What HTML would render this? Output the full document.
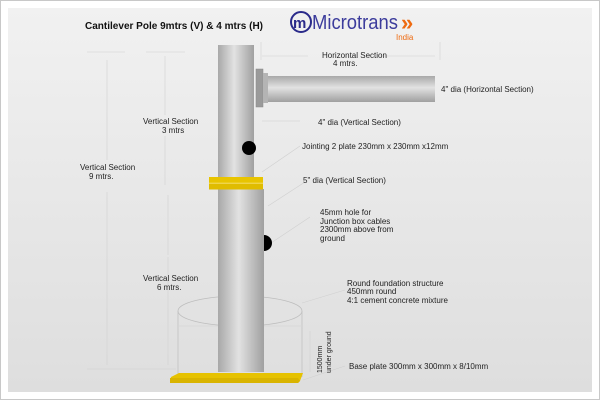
<!DOCTYPE html>
<html><head><meta charset="utf-8"><style>
html,body{margin:0;padding:0;background:#fff}
svg{display:block}
text{font-family:"Liberation Sans",Arial,sans-serif}
</style></head><body>
<svg width="600" height="400" viewBox="0 0 600 400" xmlns="http://www.w3.org/2000/svg" font-size="8" fill="#222">
<defs>
<linearGradient id="bg" x1="0" y1="0" x2="0" y2="1"><stop offset="0" stop-color="#f1f1f1"/><stop offset="1" stop-color="#dedede"/></linearGradient>
<linearGradient id="pv" x1="0" y1="0" x2="1" y2="0"><stop offset="0" stop-color="#a8a8a8"/><stop offset="0.45" stop-color="#e2e2e2"/><stop offset="1" stop-color="#a0a0a0"/></linearGradient>
<linearGradient id="ph" x1="0" y1="0" x2="0" y2="1"><stop offset="0" stop-color="#a8a8a8"/><stop offset="0.45" stop-color="#e2e2e2"/><stop offset="1" stop-color="#a0a0a0"/></linearGradient>
</defs>
<rect x="0.5" y="0.5" width="599" height="399" fill="#fff" stroke="#c8c8c8"/>
<rect x="8" y="8" width="584" height="384" fill="url(#bg)"/>
<text x="85" y="29" font-size="10.5" font-weight="bold" fill="#111" textLength="178" lengthAdjust="spacingAndGlyphs">Cantilever Pole 9mtrs (V) &amp; 4 mtrs (H)</text>
<!-- logo -->
<circle cx="301" cy="22" r="10" fill="none" stroke="#2a2a8a" stroke-width="2"/>
<text x="293" y="28" font-size="15" font-weight="bold" fill="#2a2a8a">m</text>
<text x="312" y="29" font-size="20" fill="#3c3c9c" textLength="86" lengthAdjust="spacingAndGlyphs">Microtrans</text>
<text x="401" y="30" font-size="22" font-weight="bold" fill="#ee6a10">»</text>
<text x="396" y="40" font-size="8" fill="#ee6a10">India</text>
<!-- dimension lines -->
<g stroke="#d0d0d0" stroke-width="0.6" fill="none">
<line x1="87" y1="52" x2="125" y2="52"/><line x1="146" y1="52" x2="185" y2="52"/>
<line x1="107" y1="60" x2="107" y2="160"/><line x1="107" y1="192" x2="107" y2="365"/>
<line x1="165" y1="56" x2="165" y2="115"/><line x1="165" y1="136" x2="165" y2="185"/>
<line x1="168" y1="257" x2="168" y2="365"/><line x1="168" y1="195" x2="168" y2="255"/>
<line x1="87" y1="369" x2="176" y2="369"/>
<line x1="261" y1="42" x2="261" y2="60"/><line x1="262" y1="56" x2="308" y2="56"/><line x1="380" y1="56" x2="435" y2="56"/>
<line x1="440" y1="42" x2="440" y2="60"/>
<line x1="262" y1="121" x2="300" y2="121"/>
<line x1="262" y1="172" x2="300" y2="146"/>
<line x1="268" y1="206" x2="305" y2="182"/>
<line x1="268" y1="245" x2="310" y2="217"/>
<line x1="302" y1="303" x2="345" y2="290"/>
<line x1="303" y1="380" x2="345" y2="366"/>
<line x1="310" y1="331" x2="310" y2="372"/>
</g>
<!-- foundation -->
<g stroke="#bdbdbd" stroke-width="0.7" fill="none">
<ellipse cx="240" cy="311" rx="62" ry="15"/>
<line x1="178" y1="311" x2="178" y2="377"/><line x1="302" y1="311" x2="302" y2="377"/>
<line x1="178" y1="326" x2="302" y2="326" stroke="#d6d6d6"/>
</g>
<!-- upper pole -->
<rect x="218" y="45" width="36" height="135" fill="url(#pv)"/>
<!-- horizontal -->
<rect x="256" y="69" width="7" height="38" fill="#9a9a9a" stroke="#888" stroke-width="0.5"/>
<rect x="263" y="73" width="5" height="30" fill="#b4b4b4"/>
<rect x="268" y="76" width="167" height="26" fill="url(#ph)"/>
<circle cx="249" cy="148" r="7" fill="#000"/>
<!-- lower pole -->
<rect x="218" y="189" width="46" height="183" fill="url(#pv)"/>
<path d="M264,235 A8,8 0 0 1 264,251 Z" fill="#000"/>
<!-- joint plate -->
<rect x="209" y="177" width="54" height="6" fill="#e8c400"/>
<rect x="209" y="183.5" width="54" height="6" fill="#e0bc00"/>
<line x1="209" y1="183.2" x2="263" y2="183.2" stroke="#f5e27a" stroke-width="0.8"/>
<!-- base plate -->
<polygon points="171,377 179,373 303,373 300,381 298,383 170,383" fill="#e6c200"/>
<polygon points="170,378 298,378 300,381 298,383 170,383" fill="#d9b400"/>
<!-- labels -->
<text x="322" y="58">Horizontal Section</text>
<text x="333" y="66">4 mtrs.</text>
<text x="441" y="92">4" dia (Horizontal Section)</text>
<text x="318" y="125">4" dia (Vertical Section)</text>
<text x="143" y="124">Vertical Section</text>
<text x="162" y="133">3 mtrs</text>
<text x="80" y="170">Vertical Section</text>
<text x="89" y="179">9  mtrs.</text>
<text x="302" y="149">Jointing 2 plate 230mm x 230mm x12mm</text>
<text x="303" y="183">5" dia (Vertical Section)</text>
<text x="320" y="215">45mm hole for</text>
<text x="320" y="224">Junction box cables</text>
<text x="320" y="232">2300mm above from</text>
<text x="320" y="241">ground</text>
<text x="143" y="281">Vertical Section</text>
<text x="157" y="290">6  mtrs.</text>
<text x="347" y="286">Round foundation structure</text>
<text x="347" y="294">450mm round</text>
<text x="347" y="303">4:1 cement concrete mixture</text>
<text x="349" y="369">Base plate 300mm x 300mm x 8/10mm</text>
<text transform="translate(322,373) rotate(-90)" font-size="7">1500mm</text>
<text transform="translate(331,373) rotate(-90)" font-size="7">under ground</text>
</svg>
</body></html>
